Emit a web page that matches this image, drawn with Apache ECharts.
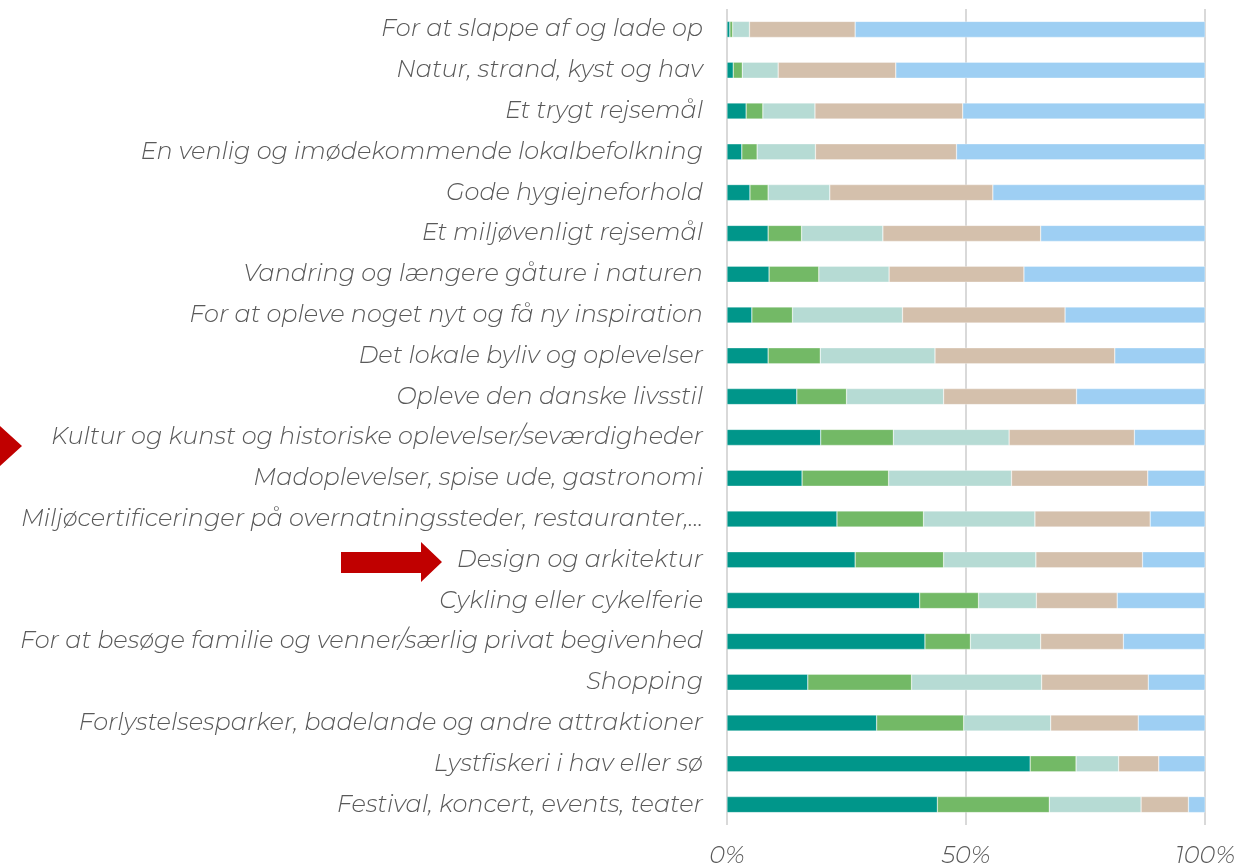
<!DOCTYPE html>
<html>
<head>
<meta charset="utf-8">
<script src="https://cdn.jsdelivr.net/npm/echarts@6/dist/echarts.min.js"></script>
<style>
    html, body { margin: 0; padding: 0; background: #fff; }
    #chart { width: 1238px; height: 868px; }
</style>
</head>
<body>
<div id="chart"></div>
<script>
// kategorier, øverst først
const categories = [
    'For at slappe af og lade op',
    'Natur, strand, kyst og hav',
    'Et trygt rejsemål',
    'En venlig og imødekommende lokalbefolkning',
    'Gode hygiejneforhold',
    'Et miljøvenligt rejsemål',
    'Vandring og længere gåture i naturen',
    'For at opleve noget nyt og få ny inspiration',
    'Det lokale byliv og oplevelser',
    'Opleve den danske livsstil',
    'Kultur og kunst og historiske oplevelser/seværdigheder',
    'Madoplevelser, spise ude, gastronomi',
    'Miljøcertificeringer på overnatningssteder, restauranter,...',
    'Design og arkitektur',
    'Cykling eller cykelferie',
    'For at besøge familie og venner/særlig privat begivenhed',
    'Shopping',
    'Forlystelsesparker, badelande og andre attraktioner',
    'Lystfiskeri i hav eller sø',
    'Festival, koncert, events, teater'
];

const seriesNames = ['Ingen betydning', 'Lille betydning', 'Nogen betydning', 'Stor betydning', 'Meget stor betydning'];

const ingen   = [0.6, 1.3, 4.0, 3.1, 4.8, 8.6, 8.8, 5.2, 8.6, 14.6, 19.6, 15.7, 23.0, 26.8, 40.3, 41.4, 16.9, 31.3, 63.4, 44.0];
const lille   = [0.6, 1.9, 3.5, 3.2, 3.8, 7.0, 10.4, 8.5, 10.9, 10.4, 15.2, 18.1, 18.1, 18.5, 12.3, 9.5, 21.7, 18.2, 9.6, 23.4];
const nogen   = [3.5, 7.5, 10.9, 12.2, 12.9, 17.0, 14.7, 23.0, 24.0, 20.3, 24.2, 25.7, 23.3, 19.3, 12.1, 14.7, 27.2, 18.2, 8.9, 19.2];
const stor    = [22.1, 24.6, 30.9, 29.5, 34.1, 33.0, 28.2, 34.0, 37.6, 27.8, 26.2, 28.5, 24.1, 22.3, 16.9, 17.3, 22.3, 18.3, 8.4, 9.9];
const megetStor = [73.2, 64.7, 50.7, 52.0, 44.4, 34.4, 37.9, 29.3, 18.9, 26.9, 14.8, 12.0, 11.5, 13.1, 18.4, 17.1, 11.9, 14.0, 9.7, 3.5];

const seriesData = [ingen, lille, nogen, stor, megetStor];
const colors = ['#00968a', '#73b966', '#b6dbd4', '#d4c0ac', '#9ecff3'];

const labelFont = {
    fontFamily: 'Montserrat, Lato, "Open Sans", sans-serif',
    fontStyle: 'italic',
    fontWeight: 300,
    fontSize: 24,
    color: '#595959'
};

const chart = echarts.init(document.getElementById('chart'));

chart.setOption({
    animation: false,
    grid: {
        top: 9,
        bottom: 41,
        left: 727,
        right: 32
    },
    xAxis: {
        type: 'value',
        min: 0,
        max: 100,
        interval: 50,
        axisLine: { show: false },
        axisTick: { show: false },
        axisLabel: Object.assign({
            formatter: '{value}%',
            margin: 19
        }, labelFont),
        splitLine: {
            show: true,
            lineStyle: { color: '#d9d9d9', width: 2 }
        }
    },
    yAxis: {
        type: 'category',
        inverse: true,
        data: categories,
        axisLine: { show: false },
        axisTick: { show: false },
        axisLabel: Object.assign({ margin: 24 }, labelFont)
    },
    series: seriesData.map((data, i) => {
        return {
            name: seriesNames[i],
            type: 'bar',
            stack: 'total',
            barWidth: 16,
            itemStyle: {
                color: colors[i],
                borderColor: 'rgba(255,255,255,0.6)',
                borderWidth: 0.5
            },
            data: data
        };
    }),
    graphic: [
        {
            type: 'polygon',
            shape: {
                points: [[-40, 436], [0, 436], [0, 426], [22, 446], [0, 466], [0, 456], [-40, 456]]
            },
            style: { fill: '#c00000' }
        },
        {
            type: 'polygon',
            shape: {
                points: [[341, 552], [421, 552], [421, 542], [442, 562], [421, 582], [421, 573], [341, 573]]
            },
            style: { fill: '#c00000' }
        }
    ]
});
</script>
</body>
</html>
